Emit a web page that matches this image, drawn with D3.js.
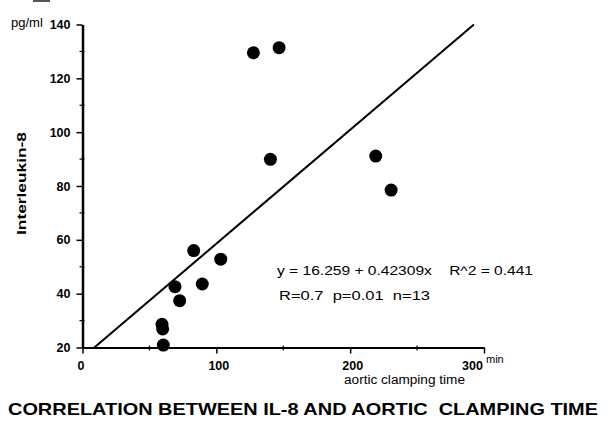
<!DOCTYPE html>
<html>
<head>
<meta charset="utf-8">
<script src="https://cdn.jsdelivr.net/npm/d3@7"></script>
<style>
  body { margin: 0; background: #fff; }
  text { font-family: "Liberation Sans", Arial, Helvetica, sans-serif; fill: #000; }
</style>
</head>
<body>
<div id="plot"></div>
<script>
// clamping time (min) and IL-8 (pg/ml) per patient
var clampTime = [127.7, 146.9, 140.4, 219.1, 230.6, 83.1, 103.3, 69.1, 89.5, 72.6, 59.4, 59.9, 60.4];
var il8 = [129.5, 131.4, 89.9, 91.1, 78.5, 56.0, 52.8, 42.6, 43.6, 37.4, 28.6, 26.9, 20.9];

// regression: y = a + b x
var intercept = 16.259;
var slope = 0.42309;

var xTicks = [0, 100, 200, 300];
var xMinor = [50, 150, 250];
var yTicks = [20, 40, 60, 80, 100, 120, 140];
var yMinor = [30, 50, 70, 90, 110, 130];

var eqLine1 = "y = 16.259 + 0.42309x    R^2 = 0.441";
var eqLine2 = "R=0.7  p=0.01  n=13";
var title = "CORRELATION BETWEEN IL-8 AND AORTIC  CLAMPING TIME";

var W = 611, H = 421;
var svg = d3.select("#plot")
  .append("svg")
  .attr("width", W)
  .attr("height", H);

var x = d3.scaleLinear().domain([0, 300]).range([82.5, 484]);
var y = d3.scaleLinear().domain([20, 140]).range([347.5, 24.5]);

// scan artifact at top edge
svg.append("rect")
  .attr("x", 33).attr("y", 0).attr("width", 17).attr("height", 2)
  .attr("fill", "#555");

// X axis
var gx = svg.append("g")
  .attr("transform", `translate(0, ${y(20)})`)
  .call(d3.axisBottom(x).tickValues(xTicks).tickSize(6).tickSizeOuter(0).tickPadding(7.5));
gx.select(".domain").attr("stroke-width", 2);
gx.selectAll(".tick line").attr("stroke-width", 1.5);
gx.selectAll(".tick text")
  .attr("font-size", 12.5)
  .attr("font-weight", "bold")
  .attr("font-family", "Liberation Sans, Arial, sans-serif")
  .attr("dx", d => d === 300 ? -12 : (d === 0 ? -2 : 2));
gx.selectAll(".minor")
  .data(xMinor)
  .enter()
  .append("line")
  .attr("x1", d => x(d)).attr("x2", d => x(d))
  .attr("y1", -2).attr("y2", 3)
  .attr("stroke", "#000").attr("stroke-width", 1.2);

// Y axis
var gy = svg.append("g")
  .attr("transform", `translate(${x(0)}, 0)`)
  .call(d3.axisLeft(y).tickValues(yTicks).tickSize(6).tickSizeOuter(0).tickPadding(6));
gy.select(".domain").attr("stroke-width", 2.5);
gy.selectAll(".tick line").attr("stroke-width", 1.5);
gy.selectAll(".tick text")
  .attr("font-size", 12.5)
  .attr("font-weight", "bold")
  .attr("font-family", "Liberation Sans, Arial, sans-serif");
gy.selectAll(".minor")
  .data(yMinor)
  .enter()
  .append("line")
  .attr("x1", -3).attr("x2", 2)
  .attr("y1", d => y(d)).attr("y2", d => y(d))
  .attr("stroke", "#000").attr("stroke-width", 1.2);

// axis labels
svg.append("text")
  .attr("x", 11).attr("y", 27)
  .attr("font-size", 13)
  .text("pg/ml");

svg.append("text")
  .attr("transform", `translate(26, ${(132 + 235) / 2}) rotate(-90)`)
  .attr("text-anchor", "middle")
  .attr("font-size", 13)
  .attr("font-weight", "bold")
  .attr("textLength", 103)
  .attr("lengthAdjust", "spacingAndGlyphs")
  .text("Interleukin-8");

svg.append("text")
  .attr("x", 486).attr("y", 363)
  .attr("font-size", 11)
  .text("min");

svg.append("text")
  .attr("x", 344).attr("y", 384)
  .attr("font-size", 12)
  .attr("textLength", 121)
  .attr("lengthAdjust", "spacingAndGlyphs")
  .text("aortic clamping time");

// regression line, clipped to the y range
var x0 = (y.domain()[0] - intercept) / slope;
var x1 = (y.domain()[1] - intercept) / slope;
svg.append("path")
  .datum([x0, x1])
  .attr("fill", "none")
  .attr("stroke", "#000")
  .attr("stroke-width", 2)
  .attr("d", d3.line()
    .x(d => x(d))
    .y(d => y(intercept + slope * d)));

// points
svg.selectAll(".dot")
  .data(d3.range(clampTime.length))
  .enter()
  .append("circle")
  .attr("class", "dot")
  .attr("cx", i => x(clampTime[i]))
  .attr("cy", i => y(il8[i]))
  .attr("r", 6.5)
  .attr("fill", "#000");

// equation text
svg.append("text")
  .attr("x", 277).attr("y", 275)
  .attr("font-size", 12)
  .attr("textLength", 256)
  .attr("lengthAdjust", "spacingAndGlyphs")
  .style("white-space", "pre")
  .attr("xml:space", "preserve")
  .text(eqLine1);

svg.append("text")
  .attr("x", 279).attr("y", 300)
  .attr("font-size", 12)
  .attr("textLength", 151)
  .attr("lengthAdjust", "spacingAndGlyphs")
  .style("white-space", "pre")
  .attr("xml:space", "preserve")
  .text(eqLine2);

// title
svg.append("text")
  .attr("x", 8).attr("y", 415)
  .attr("font-size", 16.5)
  .attr("font-weight", "bold")
  .attr("textLength", 590)
  .attr("lengthAdjust", "spacingAndGlyphs")
  .style("white-space", "pre")
  .attr("xml:space", "preserve")
  .text(title);
</script>
</body>
</html>
